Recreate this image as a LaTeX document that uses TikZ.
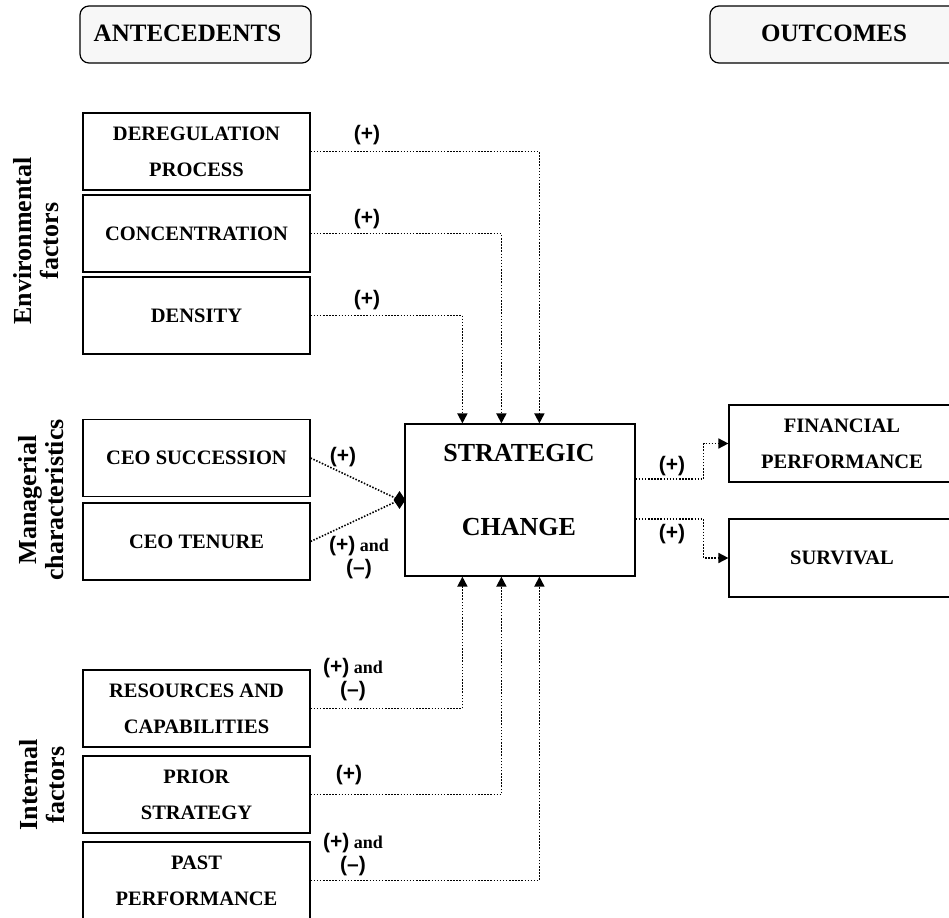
\documentclass[tikz,border=0pt]{standalone}
\usepackage{fontspec}
\setmainfont{Liberation Serif}
\newfontfamily\sansf{Liberation Sans}
\usetikzlibrary{arrows.meta,shapes.geometric}
\newcommand\pl{{\sansf\fontsize{21}{23}\selectfont(+)}}
\newcommand\mi{{\sansf\fontsize{21}{23}\selectfont(–)}}
\tikzset{
  box/.style={draw, line width=1.2pt, inner sep=0pt, minimum width=227, minimum height=77,
    align=center, font=\bfseries\fontsize{20.5}{36}\selectfont},
  hdr/.style={draw, line width=1.2pt, rounded corners=9pt, fill=gray!6, inner sep=0pt,
    minimum height=57},
  hdrtext/.style={font=\bfseries\fontsize{25}{30}\selectfont},
  side/.style={rotate=90, align=center, font=\bfseries\fontsize{26}{27}\selectfont},
  sctext/.style={font=\bfseries\fontsize{26}{30}\selectfont},
  lbl/.style={align=center, inner sep=0pt, font=\bfseries\fontsize{18}{23}\selectfont},
  conn/.style={line width=1.6pt, dash pattern=on 1.5pt off 1.6pt, -{Triangle[length=10pt,width=10pt]}},
  connb/.style={line width=1.6pt, dash pattern=on 1.5pt off 1.6pt}
}
\begin{document}
\begin{tikzpicture}[x=1pt,y=-1pt]
\clip (0,0) rectangle (949,917);
\fill[white] (0,0) rectangle (949,917);
% headers
\node[hdr, minimum width=231] (hA) at (195.5,34.5) {};
\node[hdrtext] (hAt) at (187.5,33) {ANTECEDENTS};
\node[hdr, minimum width=260] (hO) at (840,34.5) {};
\node[hdrtext] (hOt) at (834,33) {OUTCOMES};
% side labels
\node[side] (envl) at (36,241) {Environmental\\factors};
\node[side] (manl) at (41,500) {Managerial\\characteristics};
\node[side] (intl) at (42,785) {Internal\\factors};
% left boxes
\node[box] (dereg) at (196.5,151.5) {DEREGULATION\\PROCESS};
\node[box] (conc) at (196.5,233.5) {CONCENTRATION};
\node[box] (dens) at (196.5,315.5) {DENSITY};
\node[box] (ceos) at (196.5,458) {CEO SUCCESSION};
\node[box] (ceot) at (196.5,541.5) {CEO TENURE};
\node[box] (res) at (196.5,708.5) {RESOURCES AND\\CAPABILITIES};
\node[box] (prior) at (196.5,794.5) {PRIOR\\STRATEGY};
\node[box] (past) at (196.5,880.5) {PAST\\PERFORMANCE};
% central box
\node[draw, line width=1.2pt, minimum width=230, minimum height=152, inner sep=0pt] (sc) at (520,500) {};
\node[sctext] (sc1) at (519,453) {STRATEGIC};
\node[sctext] (sc2) at (519,527) {CHANGE};
% outcome boxes
\node[box, minimum width=226] (fin) at (842,443.5) {FINANCIAL\\PERFORMANCE};
\node[box, minimum width=226, minimum height=78] (surv) at (842,558) {SURVIVAL};
% diamond junction
\node[diamond, fill=black, inner sep=0pt, minimum width=12, minimum height=18] (dj) at (399.5,500) {};
% connectors
\draw[conn] (dereg.east) -| ([xshift=135pt]sc.north west);
\draw[conn] (conc.east) -| ([xshift=97pt]sc.north west);
\draw[conn] (dens.east) -| ([xshift=58pt]sc.north west);
\draw[connb] (ceos.east) -- (dj.center);
\draw[connb] (ceot.east) -- (dj.center);
\draw[conn] (res.east) -| ([xshift=58pt]sc.south west);
\draw[conn] (prior.east) -| ([xshift=97pt]sc.south west);
\draw[conn] (past.east) -| ([xshift=135pt]sc.south west);
\draw[conn] ([yshift=21pt]sc.east) -- ++(68,0) |- (fin.west);
\draw[conn] ([yshift=-19pt]sc.east) -- ++(68,0) |- (surv.west);
% labels
\node[lbl] (l1) at (367,135) {\pl};
\node[lbl] (l2) at (367,219) {\pl};
\node[lbl] (l3) at (367,300) {\pl};
\node[lbl] (l4) at (343,457) {\pl};
\node[lbl] (l5) at (359,558) {\pl{} and\\\mi};
\node[lbl] (l6) at (353,680) {\pl{} and\\\mi};
\node[lbl] (l7) at (349,775) {\pl};
\node[lbl] (l8) at (353,855) {\pl{} and\\\mi};
\node[lbl] (l9) at (672,466) {\pl};
\node[lbl] (l10) at (672,534) {\pl};
\end{tikzpicture}
\end{document}
